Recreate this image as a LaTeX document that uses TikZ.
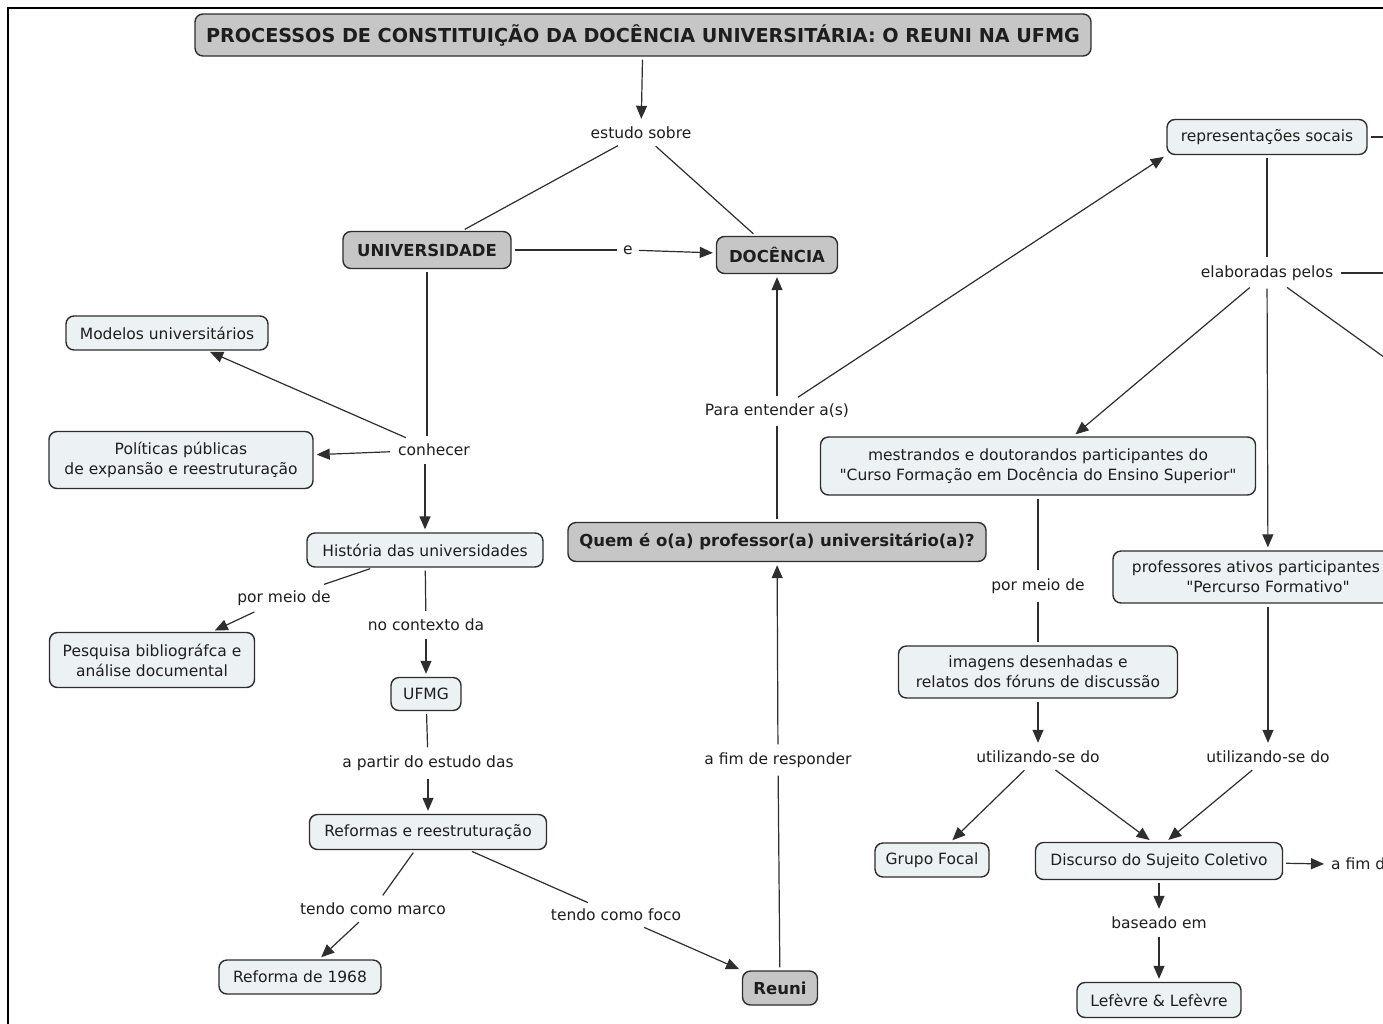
\documentclass[tikz,border=0pt]{standalone}
\usepackage{fontspec}
\setmainfont{DejaVu Sans}[Ligatures=TeXOff]
\usetikzlibrary{arrows.meta}
\definecolor{lfill}{HTML}{ECF1F3}
\definecolor{gfill}{HTML}{C6C6C6}
\definecolor{bord}{HTML}{2E2E2E}
\definecolor{txt}{HTML}{1E1E1E}
\tikzset{
 concept/.style={draw=bord, line width=1.4pt, rounded corners=8pt, fill=lfill, text=txt, align=center, inner sep=3pt, font=\fontsize{15.5}{20}\selectfont},
 keyc/.style={concept, fill=gfill, font=\fontsize{16.5}{20}\selectfont\bfseries},
 titlec/.style={concept, fill=gfill, font=\fontsize{19.2}{23}\selectfont\bfseries},
 link/.style={text=txt, inner sep=5pt, font=\fontsize{15.5}{20}\selectfont},
 conn/.style={draw=bord, line width=1.2pt, shorten <=3pt, shorten >=3pt},
 arr/.style={conn, -{Triangle[length=13pt,width=11pt]}},
}
\begin{document}
\begin{tikzpicture}[x=1pt,y=-1pt]
\useasboundingbox (0,0) rectangle (1383,1023);
\clip (0,0) rectangle (1383,1023);
\fill[white] (0,0) rectangle (1383,1023);
\draw[line width=2.2pt, black] (8,1040) -- (8,8) -- (1400,8);

% concepts
\node[titlec, minimum width=896, minimum height=42] (title) at (643,35) {PROCESSOS DE CONSTITUIÇÃO DA DOCÊNCIA UNIVERSITÁRIA: O REUNI NA UFMG};
\node[keyc, minimum width=168, minimum height=37] (univ) at (427,250) {UNIVERSIDADE};
\node[keyc, minimum width=121, minimum height=37] (doc) at (777,255) {DOCÊNCIA};
\node[concept, minimum width=202, minimum height=34] (modelos) at (167,333) {Modelos universitários};
\node[concept, minimum width=264, minimum height=57] (politicas) at (181,460) {Políticas públicas\\de expansão e reestruturação};
\node[concept, minimum width=236, minimum height=34] (historia) at (425,550) {História das universidades};
\node[concept, minimum width=205, minimum height=55] (pesquisa) at (152,660) {Pesquisa bibliográfca e\\análise documental};
\node[concept, minimum width=70, minimum height=33] (ufmg) at (426,694) {UFMG};
\node[concept, minimum width=237, minimum height=35] (reformas) at (428,832) {Reformas e reestruturação};
\node[concept, minimum width=162, minimum height=34] (r1968) at (300,977) {Reforma de 1968};
\node[keyc, minimum width=75, minimum height=34] (reuni) at (780,988) {Reuni};
\node[keyc, minimum width=418, minimum height=39] (quem) at (777,542) {Quem é o(a) professor(a) universitário(a)?};
\node[concept, minimum width=200, minimum height=35] (repr) at (1267,137) {representações socais};
\node[concept, minimum width=435, minimum height=58] (mestr) at (1038,466) {mestrandos e doutorandos participantes do\\"Curso Formação em Docência do Ensino Superior"};
\node[concept, minimum width=310, minimum height=52] (prof) at (1268,577) {professores ativos participantes\hphantom{ do}\\"Percurso Formativo"};
\node[concept, minimum width=279, minimum height=52] (imagens) at (1038,672) {imagens desenhadas e\\relatos dos fóruns de discussão};
\node[concept, minimum width=114, minimum height=34] (grupo) at (932,860) {Grupo Focal};
\node[concept, minimum width=247, minimum height=37] (disc) at (1159,861) {Discurso do Sujeito Coletivo};
\node[concept, minimum width=164, minimum height=35] (lefevre) at (1159,1000) {Lefèvre \& Lefèvre};

% linking phrases
\node[link] (estudo) at (641,133) {estudo sobre};
\node[link, inner sep=3pt] (e) at (628,250) {e};
\node[link] (conhecer) at (434,450) {conhecer};
\node[link] (pormeioA) at (284,598) {por meio de};
\node[link] (contexto) at (426,625) {no contexto da};
\node[link] (apartir) at (428,763) {a partir do estudo das};
\node[link] (marco) at (373,909) {tendo como marco};
\node[link] (foco) at (616,915) {tendo como foco};
\node[link] (responder) at (778,760) {a fim de responder};
\node[link] (entender) at (777,411) {Para entender a(s)};
\node[link] (elab) at (1267,273) {elaboradas pelos};
\node[link] (pormeioB) at (1038,586) {por meio de};
\node[link] (utilA) at (1038,757) {utilizando-se do};
\node[link] (utilB) at (1268,757) {utilizando-se do};
\node[link] (baseado) at (1159,923) {baseado em};
\node[link, anchor=west, inner sep=0pt] (afim) at (1331,864) {a fim d};

% off-picture ends
\coordinate (offA) at (1420,137);
\coordinate (offB) at (1420,273);
\coordinate (offC) at (1420,383);

% connectors
\draw[arr] (title) -- (estudo);
\draw[conn] (estudo) -- (univ);
\draw[conn] (estudo) -- (doc);
\draw[conn] (univ) -- (e);
\draw[arr] (e) -- (doc);
\draw[conn] (univ) -- (univ |- conhecer.north);
\draw[arr] (conhecer) -- (modelos);
\draw[arr] (conhecer) -- (politicas);
\draw[arr] (conhecer.south -| historia) -- (historia);
\draw[conn] (historia) -- (pormeioA);
\draw[arr] (pormeioA) -- (pesquisa);
\draw[conn] (historia) -- (contexto);
\draw[arr] (contexto) -- (ufmg);
\draw[conn] (ufmg) -- (apartir);
\draw[arr] (apartir) -- (reformas);
\draw[conn] (reformas) -- (marco);
\draw[arr] (marco) -- (r1968);
\draw[conn] (reformas) -- (foco);
\draw[arr] (foco) -- (reuni.north west);
\draw[conn] (reuni) -- (responder);
\draw[arr] (responder) -- (quem);
\draw[conn] (quem) -- (entender);
\draw[arr] (entender) -- (doc);
\draw[arr] (entender) -- (repr.south west);
\draw[conn] (repr) -- (offA);
\draw[conn] (repr) -- (elab);
\draw[conn] (elab) -- (offB);
\draw[conn] (elab) -- (offC);
\draw[arr] (elab) -- (mestr);
\draw[arr] (elab) -- (prof);
\draw[conn] (mestr) -- (pormeioB);
\draw[conn] (pormeioB) -- (imagens);
\draw[arr] (imagens) -- (utilA);
\draw[arr] (utilA) -- (grupo);
\draw[arr] (utilA) -- ([xshift=-7pt]disc.north);
\draw[arr] (prof) -- (utilB);
\draw[arr] (utilB) -- ([xshift=7pt]disc.north);
\draw[arr] (disc) -- ([xshift=-4pt]afim.west);
\draw[arr] (disc) -- (baseado);
\draw[arr] (baseado) -- (lefevre);
\end{tikzpicture}
\end{document}
